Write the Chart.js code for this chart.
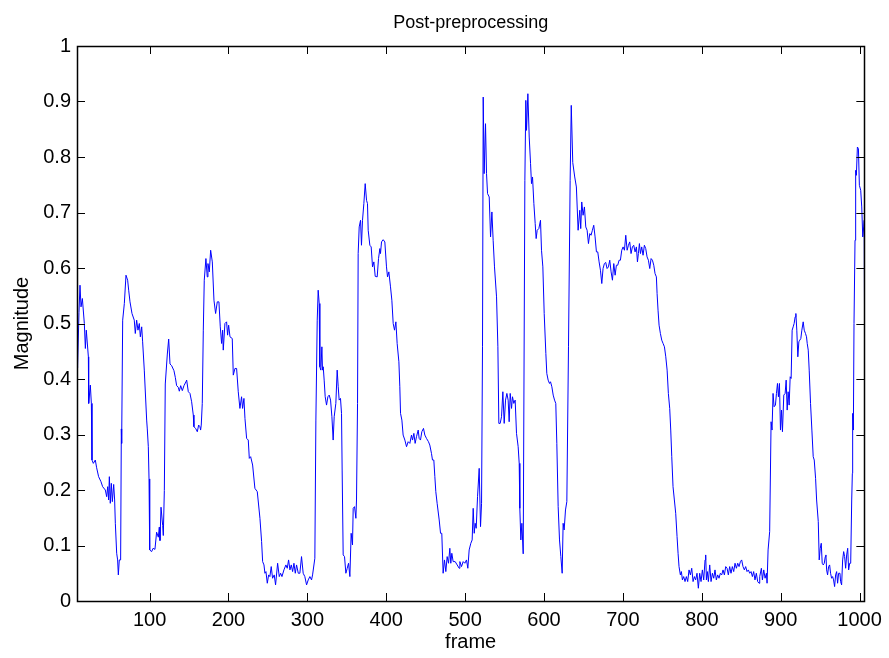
<!DOCTYPE html>
<html lang="en">
<head>
    <meta charset="UTF-8">
    <title>Post-preprocessing</title>
    <script src="https://cdn.jsdelivr.net/npm/chart.js"></script>
    <style>
        html, body {
            margin: 0;
            padding: 0;
            background: #ffffff;
        }
        #wrap {
            width: 889px;
            height: 658px;
        }
    </style>
</head>
<body>
    <div id="wrap">
        <canvas id="magChart" width="889" height="658"></canvas>
    </div>

    <script>
        // frame index of each sample
        const frames = [
            8, 8.8, 10.5, 11.8, 13.1, 14.8, 17.3, 18.6, 19.8, 22.4, 22.8, 24.9, 26.2, 27, 28.7, 31.2, 32.9, 35.4, 38.4, 40.5,
            43.9, 45.6, 46.9, 48.1, 49, 50.2, 51.5, 52.8, 54.5, 55.7, 56.6, 58.3, 59.5, 60.4, 61.6, 63.3, 64.2, 64.6, 65.9, 68,
            70.1, 72.2, 73.5, 75.2, 77.7, 80.6, 81.9, 83.6, 85.3, 87, 88.3, 90, 91.2, 93.3, 96.3, 97.1, 98.4, 99.3, 99.8, 100.5,
            102.6, 104.5, 106.8, 108.9, 111.1, 112.3, 113.2, 114.5, 116.6, 117.4, 118.7, 119.9, 122.5, 124.2, 125.9, 128, 130.9, 132.6, 134.3, 136.4,
            137.7, 139.4, 141.5, 143.6, 146.1, 147, 149.1, 151.2, 153.3, 155.4, 156.2, 158.4, 160.5, 162.2, 163.8, 164.7, 165.5, 166.8, 168.1, 169.3,
            171.4, 173.1, 174, 175.7, 177.4, 179.5, 181.6, 183.7, 185.8, 187.9, 189.6, 191.3, 192.6, 193.4, 195.5, 197.6, 198.9, 200.2, 201.9, 204.8,
            206.1, 208.2, 210.3, 212.4, 214.5, 216.6, 217.9, 219.6, 220.9, 223, 225.1, 226.4, 228.1, 230.6, 233.5, 236.5, 239.9, 242, 243.3, 245,
            246.2, 247.5, 249.2, 250.9, 252.5, 254.2, 255.9, 258, 259.7, 262.3, 264.4, 266.1, 267.8, 270.3, 272.8, 274.5, 276.2, 277.9, 279.6, 281.3,
            283, 284.7, 286.3, 288.5, 290.5, 292.6, 294.7, 296.8, 299, 301.1, 303.2, 305.3, 306.6, 309.5, 310.8, 312.5, 313.7, 315, 315.8, 317.1,
            318.4, 319.2, 320.1, 321.3, 322.6, 324.3, 326, 327.7, 329.4, 331.1, 332.7, 334, 336.1, 337.8, 339.1, 340.3, 342, 343.3, 344.1, 345.4,
            347.1, 348.8, 350.5, 352.2, 353.9, 355.5, 357.2, 358.1, 359.8, 361.5, 362.3, 363.6, 364.4, 365.7, 367.4, 368.6, 369.9, 371.6, 373.3, 375,
            376.2, 377.1, 379.2, 380.9, 382.6, 384.3, 386, 388.5, 390.2, 391.9, 392.7, 394, 396.1, 398.2, 400.3, 401.6, 403.3, 405.4, 407.1, 408.8,
            410.5, 412.2, 413.8, 416, 417.2, 418.1, 419.8, 421.4, 423.6, 425.7, 427.8, 429.9, 432, 433.3, 435, 436.6, 438.3, 440.5, 441.7, 443.4,
            445.1, 447.2, 448.9, 451, 453.5, 455.2, 457.3, 458.6, 460.3, 461.6, 462.8, 464.5, 467.1, 468.8, 470.4, 472.1, 473.8, 475.5, 477.2, 478.9,
            480.6, 481.8, 483.1, 484.8, 487.3, 489.9, 492.4, 493.3, 495.4, 497.5, 499.6, 501.7, 503.4, 505.1, 507.2, 508.9, 510.2, 511.5, 512.7, 514,
            515.7, 517.8, 519.5, 520.8, 522, 522.9, 524.1, 525.8, 527.1, 528.4, 530.5, 532.2, 533.9, 535.5, 537.2, 539.8, 541.5, 542.7, 544.4, 546.1,
            547.8, 549.5, 551.2, 552.9, 554.5, 555.8, 557.1, 558.8, 560, 561.7, 563.4, 565.1, 567.2, 568.5, 569.3, 570.6, 571.9, 573.6, 575.7, 576.9,
            577.8, 579.5, 581.2, 582.9, 584.1, 585.4, 587.1, 588.8, 590, 591.3, 593.4, 595.5, 596.8, 598.5, 600.2, 602.3, 603.5, 605.2, 606.9, 608.2,
            609.9, 611.6, 613.3, 614.9, 616.2, 617.9, 619.6, 621.3, 623, 624.2, 625.5, 627.2, 628.9, 631, 633.1, 634.5, 636.4, 638.9, 641, 643.2,
            645.3, 646.5, 647.8, 649.5, 651.2, 652.9, 654.6, 656.3, 658, 659.6, 661.3, 663, 664.7, 666.4, 668.1, 669.8, 671.5, 673.2, 674.8, 676.5,
            678.2, 679.9, 681.6, 683.3, 685, 686.7, 688.4, 690.1, 691.7, 693.4, 695.1, 696.8, 698.5, 700.2, 701.9, 703.6, 705.3, 707, 708.6, 710.3,
            712, 713.7, 715.4, 717.1, 718.4, 719.6, 720.9, 722.2, 723.8, 725.5, 727.2, 728.9, 730.6, 732.3, 734, 735.7, 737.4, 739.1, 740.7, 742.4,
            743.3, 744.5, 745.8, 747.5, 749.2, 750.9, 752.6, 754.3, 756, 757.6, 759.3, 760.6, 761.9, 763.5, 765.2, 766.9, 768.6, 769.9, 771.1, 772.8,
            774.1, 775.4, 777, 778.7, 780.4, 782.1, 783.8, 785.5, 787.2, 788.9, 790.6, 792.2, 793.9, 795.6, 797.3, 799, 800.7, 802.4, 804.1, 804.9,
            805.8, 807, 808.3, 810, 811.7, 813.4, 815.1, 816.7, 818.4, 820.1, 821.8, 823.5, 825.2, 826.9, 828.6, 830.3, 832, 833.6, 835.3, 837,
            838.7, 840.4, 842.1, 843.8, 845.5, 847.2, 848.9, 850.5, 852.2, 853.9, 855.6, 857.3, 859, 860.7, 862.4, 864.1, 865.7, 867.4, 869.1, 870.8,
            872.5, 873.4, 875.5, 876.8, 878.5, 880.2, 881.9, 882.7, 884, 886, 887.8, 889, 890.3, 891.6, 893.3, 894.6, 895.9, 897.1, 898.4, 899.7,
            901, 902.2, 903.9, 905.6, 906.9, 908.2, 909.4, 910.7, 912, 913.2, 914.5, 915.8, 917, 918.3, 919.2, 920.4, 921.7, 923, 924.2, 925.5,
            926.8, 928.5, 929.8, 931.4, 932.7, 933.6, 934.9, 936.1, 937.8, 939.5, 941.2, 942.5, 944.2, 945.5, 947.6, 948.8, 950.1, 951.4, 952.6, 953.9,
            955.2, 956.5, 957.3, 958.2, 959.4, 960.7, 962, 963.2, 964.5, 965.8, 967, 968.3, 969.6, 970.9, 972.1, 973.4, 975.1, 975.9, 977.2, 978.5,
            979.8, 981, 982.3, 983.6, 984.9, 986.1, 987.4, 988.7, 990, 990.8, 991.2, 992.1, 992.9, 994.2, 995, 995.9, 997.2, 998.5, 999.7, 1001.4,
            1002.7, 1004, 1005.2, 1005.8, 1006.3
        ];

        // magnitude after preprocessing, one per frame above
        const magnitude = [
            0.42, 0.425, 0.52, 0.569, 0.53, 0.545, 0.50, 0.455, 0.488, 0.44, 0.356, 0.389, 0.356, 0.254, 0.248, 0.254, 0.24, 0.224, 0.215, 0.206,
            0.2, 0.188, 0.206, 0.182, 0.224, 0.176, 0.212, 0.179, 0.21, 0.182, 0.14, 0.086, 0.074, 0.047, 0.074, 0.074, 0.31, 0.284, 0.506, 0.536,
            0.587, 0.578, 0.56, 0.539, 0.518, 0.506, 0.482, 0.506, 0.488, 0.5, 0.476, 0.494, 0.467, 0.416, 0.326, 0.31, 0.278, 0.22, 0.152, 0.092,
            0.089, 0.095, 0.093, 0.124, 0.115, 0.133, 0.109, 0.169, 0.136, 0.118, 0.199, 0.391, 0.445, 0.472, 0.427, 0.424, 0.415, 0.403, 0.388, 0.385,
            0.378, 0.388, 0.379, 0.388, 0.395, 0.398, 0.377, 0.374, 0.359, 0.335, 0.314, 0.311, 0.305, 0.317, 0.314, 0.308, 0.317, 0.356, 0.488, 0.578,
            0.617, 0.584, 0.608, 0.593, 0.632, 0.611, 0.542, 0.518, 0.539, 0.539, 0.494, 0.464, 0.488, 0.452, 0.5, 0.503, 0.479, 0.497, 0.476, 0.473,
            0.407, 0.419, 0.419, 0.377, 0.347, 0.368, 0.347, 0.365, 0.329, 0.293, 0.29, 0.257, 0.26, 0.245, 0.203, 0.197, 0.149, 0.107, 0.071, 0.065,
            0.05, 0.053, 0.032, 0.047, 0.044, 0.062, 0.041, 0.047, 0.029, 0.068, 0.044, 0.05, 0.044, 0.056, 0.065, 0.059, 0.074, 0.056, 0.065, 0.053,
            0.068, 0.05, 0.065, 0.05, 0.05, 0.08, 0.05, 0.044, 0.029, 0.038, 0.044, 0.038, 0.047, 0.077, 0.326, 0.506, 0.56, 0.536, 0.422, 0.416,
            0.458, 0.416, 0.422, 0.398, 0.368, 0.353, 0.368, 0.371, 0.362, 0.332, 0.29, 0.332, 0.356, 0.416, 0.386, 0.362, 0.365, 0.338, 0.236, 0.083,
            0.08, 0.05, 0.059, 0.068, 0.044, 0.122, 0.101, 0.167, 0.17, 0.149, 0.182, 0.356, 0.626, 0.674, 0.686, 0.641, 0.686, 0.716, 0.752, 0.722,
            0.716, 0.668, 0.641, 0.638, 0.602, 0.611, 0.585, 0.584, 0.617, 0.635, 0.626, 0.647, 0.651, 0.647, 0.602, 0.584, 0.593, 0.566, 0.542, 0.5,
            0.488, 0.503, 0.464, 0.431, 0.386, 0.338, 0.326, 0.299, 0.29, 0.278, 0.287, 0.284, 0.299, 0.29, 0.302, 0.284, 0.296, 0.308, 0.293, 0.29,
            0.305, 0.311, 0.299, 0.293, 0.287, 0.281, 0.266, 0.254, 0.254, 0.224, 0.197, 0.176, 0.146, 0.122, 0.122, 0.05, 0.074, 0.053, 0.08, 0.068,
            0.095, 0.068, 0.086, 0.071, 0.071, 0.065, 0.059, 0.071, 0.062, 0.071, 0.068, 0.074, 0.059, 0.092, 0.104, 0.11, 0.167, 0.122, 0.14, 0.131,
            0.188, 0.239, 0.134, 0.176, 0.458, 0.908, 0.77, 0.86, 0.77, 0.734, 0.728, 0.656, 0.701, 0.65, 0.602, 0.548, 0.458, 0.32, 0.32, 0.332,
            0.377, 0.32, 0.362, 0.374, 0.362, 0.323, 0.374, 0.347, 0.368, 0.356, 0.362, 0.302, 0.278, 0.248, 0.167, 0.11, 0.14, 0.085, 0.758, 0.902,
            0.848, 0.914, 0.836, 0.788, 0.752, 0.764, 0.716, 0.68, 0.653, 0.668, 0.671, 0.686, 0.632, 0.602, 0.518, 0.446, 0.41, 0.398, 0.392, 0.395,
            0.386, 0.371, 0.362, 0.356, 0.284, 0.17, 0.11, 0.08, 0.05, 0.14, 0.128, 0.164, 0.179, 0.458, 0.758, 0.893, 0.79, 0.764, 0.746, 0.668,
            0.704, 0.671, 0.719, 0.695, 0.71, 0.674, 0.668, 0.644, 0.662, 0.659, 0.668, 0.677, 0.656, 0.629, 0.629, 0.611, 0.596, 0.572, 0.599, 0.608,
            0.61, 0.599, 0.602, 0.614, 0.593, 0.578, 0.608, 0.587, 0.605, 0.605, 0.614, 0.614, 0.632, 0.638, 0.632, 0.659, 0.632, 0.641, 0.647, 0.626,
            0.638, 0.641, 0.629, 0.638, 0.611, 0.626, 0.644, 0.626, 0.638, 0.623, 0.641, 0.635, 0.62, 0.614, 0.599, 0.617, 0.614, 0.605, 0.59, 0.584,
            0.554, 0.524, 0.497, 0.482, 0.47, 0.464, 0.458, 0.44, 0.416, 0.374, 0.347, 0.308, 0.26, 0.206, 0.182, 0.158, 0.116, 0.086, 0.062, 0.047,
            0.053, 0.038, 0.044, 0.035, 0.044, 0.035, 0.056, 0.047, 0.059, 0.035, 0.044, 0.038, 0.05, 0.023, 0.05, 0.035, 0.056, 0.038, 0.074, 0.083,
            0.038, 0.053, 0.035, 0.065, 0.035, 0.05, 0.041, 0.056, 0.038, 0.047, 0.041, 0.05, 0.047, 0.056, 0.047, 0.062, 0.059, 0.047, 0.062, 0.05,
            0.062, 0.053, 0.068, 0.059, 0.068, 0.062, 0.071, 0.074, 0.062, 0.056, 0.062, 0.053, 0.056, 0.05, 0.053, 0.044, 0.053, 0.038, 0.05, 0.035,
            0.032, 0.044, 0.059, 0.038, 0.056, 0.041, 0.05, 0.032, 0.092, 0.125, 0.323, 0.308, 0.374, 0.35, 0.353, 0.374, 0.392, 0.368, 0.392, 0.308,
            0.344, 0.305, 0.371, 0.374, 0.398, 0.344, 0.377, 0.353, 0.404, 0.401, 0.488, 0.494, 0.5, 0.512, 0.518, 0.488, 0.44, 0.467, 0.47, 0.473,
            0.488, 0.503, 0.488, 0.482, 0.476, 0.464, 0.452, 0.416, 0.356, 0.308, 0.26, 0.254, 0.221, 0.182, 0.143, 0.074, 0.095, 0.104, 0.068, 0.065,
            0.068, 0.08, 0.083, 0.056, 0.047, 0.062, 0.065, 0.05, 0.041, 0.044, 0.038, 0.026, 0.047, 0.053, 0.032, 0.05, 0.05, 0.035, 0.029, 0.074,
            0.089, 0.08, 0.059, 0.083, 0.095, 0.056, 0.068, 0.068, 0.182, 0.23, 0.338, 0.308, 0.5, 0.65, 0.776, 0.767, 0.818, 0.815, 0.749, 0.74,
            0.71, 0.656, 0.674, 0.686, 0.5
        ];

        // axis ticks
        const xTicks = [100, 200, 300, 400, 500, 600, 700, 800, 900, 1000];
        const yTicks = [0, 0.1, 0.2, 0.3, 0.4, 0.5, 0.6, 0.7, 0.8, 0.9, 1];
        const yTickLabels = ['0', '0.1', '0.2', '0.3', '0.4', '0.5', '0.6', '0.7', '0.8', '0.9', '1'];

        const FONT = "'Liberation Sans', Arial, sans-serif";

        // box around the plot with short ticks pointing inwards on all four sides
        const boxAxes = {
            id: 'boxAxes',
            afterDraw(chart) {
                const { ctx, chartArea: a, scales: { x, y } } = chart;
                const len = 8;
                ctx.save();
                ctx.strokeStyle = '#000000';
                ctx.lineWidth = 1;
                ctx.beginPath();
                x.ticks.forEach(t => {
                    const px = Math.round(x.getPixelForValue(t.value)) + 0.5;
                    ctx.moveTo(px, a.bottom);
                    ctx.lineTo(px, a.bottom - len);
                    ctx.moveTo(px, a.top);
                    ctx.lineTo(px, a.top + len);
                });
                y.ticks.forEach(t => {
                    const py = Math.round(y.getPixelForValue(t.value)) + 0.5;
                    ctx.moveTo(a.left, py);
                    ctx.lineTo(a.left + len, py);
                    ctx.moveTo(a.right, py);
                    ctx.lineTo(a.right - len, py);
                });
                ctx.stroke();
                ctx.lineWidth = 1.5;
                ctx.strokeRect(Math.round(a.left) + 0.5, Math.round(a.top) + 0.5,
                    Math.round(a.right - a.left), Math.round(a.bottom - a.top));
                ctx.restore();
            }
        };

        const points = frames.map((f, i) => ({ x: f, y: magnitude[i] }));

        new Chart(document.getElementById('magChart'), {
            type: 'line',
            data: {
                datasets: [{
                    data: points,
                    borderColor: '#0000ff',
                    borderWidth: 1,
                    pointRadius: 0,
                    tension: 0,
                    fill: false
                }]
            },
            options: {
                responsive: false,
                animation: false,
                layout: {
                    padding: { left: 0, right: 24, top: 0, bottom: 0 }
                },
                plugins: {
                    legend: { display: false },
                    tooltip: { enabled: false },
                    title: {
                        display: true,
                        fullSize: false,
                        text: 'Post-preprocessing',
                        color: '#000000',
                        font: { family: FONT, size: 18, weight: 'normal' },
                        padding: { top: 12, bottom: 12.4 }
                    }
                },
                scales: {
                    x: {
                        type: 'linear',
                        min: 8,
                        max: 1006,
                        grid: { display: false, drawTicks: false },
                        border: { display: false },
                        afterBuildTicks: scale => {
                            scale.ticks = xTicks.map(v => ({ value: v }));
                        },
                        afterFit: scale => {
                            scale.height = 57;
                        },
                        ticks: {
                            color: '#000000',
                            font: { family: FONT, size: 20 },
                            padding: 7,
                            maxRotation: 0,
                            callback: v => String(v)
                        },
                        title: {
                            display: true,
                            text: 'frame',
                            color: '#000000',
                            font: { family: FONT, size: 20 },
                            padding: { top: 0, bottom: 4 }
                        }
                    },
                    y: {
                        type: 'linear',
                        min: 0,
                        max: 1,
                        grid: { display: false, drawTicks: false },
                        border: { display: false },
                        afterBuildTicks: scale => {
                            scale.ticks = yTicks.map(v => ({ value: v }));
                        },
                        afterFit: scale => {
                            scale.width = 77;
                        },
                        ticks: {
                            color: '#000000',
                            font: { family: FONT, size: 20 },
                            padding: 6,
                            callback: v => yTickLabels[yTicks.indexOf(v)]
                        },
                        title: {
                            display: true,
                            text: 'Magnitude',
                            color: '#000000',
                            font: { family: FONT, size: 20 },
                            padding: { top: 10, bottom: 0 }
                        }
                    }
                }
            },
            plugins: [boxAxes]
        });
    </script>
</body>
</html>
